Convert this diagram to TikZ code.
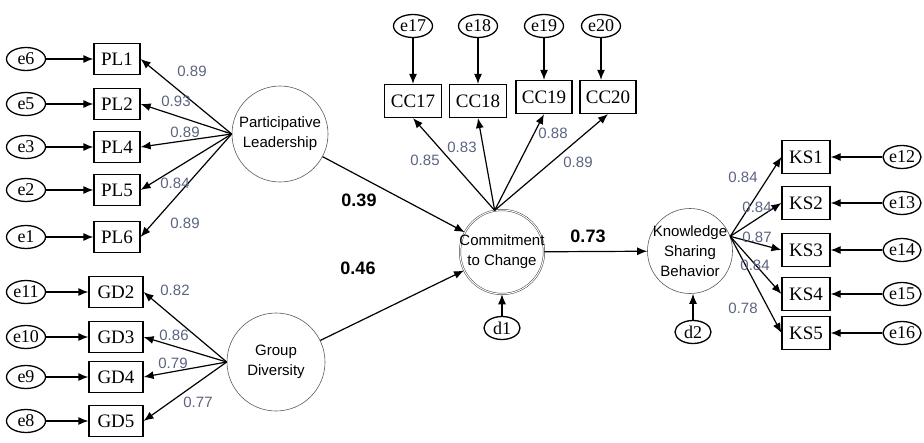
\documentclass[tikz,border=0pt]{standalone}
\usepackage{fontspec}
\setmainfont{Liberation Serif}
\setsansfont{Liberation Sans}
\usetikzlibrary{shapes.geometric, arrows.meta, positioning}
\definecolor{loadc}{RGB}{90,100,128}

\begin{document}
\begin{tikzpicture}[
  x=1pt, y=-1pt,
  latent/.style={circle, draw=gray!70!black, line width=0.6pt, inner sep=0pt,
                 align=center, font=\sffamily\fontsize{15}{20}\selectfont},
  ind/.style={draw, line width=1.2pt, minimum width=46pt, minimum height=31pt,
              inner sep=2pt, font=\fontsize{19}{21}\selectfont},
  err/.style={ellipse, draw, line width=1.3pt, minimum width=39pt,
              minimum height=23pt, inner sep=0pt, font=\fontsize{18}{20}\selectfont},
  arr/.style={-{Latex[length=10pt,width=8pt]}, line width=1.2pt},
  ld/.style={font=\sffamily\fontsize{15}{17}\selectfont, text=loadc, inner sep=0pt},
  coef/.style={font=\sffamily\bfseries\fontsize{18}{20}\selectfont, inner sep=0pt}
]
\useasboundingbox (0,0) rectangle (924,442);

% latent variables
\node[latent, minimum size=96pt] (PLd) at (280,134) {Participative\\Leadership};
\node[latent, minimum size=98pt] (GDd) at (276,362) {Group\\Diversity};
\node[latent, minimum size=84pt, inner sep=-4pt, double=white,
      double distance=1pt, draw=gray!50!black, line width=0.5pt]
      (CTC) at (502,252) {Commitment\\to Change};
\node[latent, minimum size=85pt, inner sep=-6pt] (KSB) at (690,251)
      {Knowledge\\Sharing\\Behavior};

% Participative Leadership block
\node[ind] (PL1) at (117,59)  {PL1};
\node[ind] (PL2) at (117,104) {PL2};
\node[ind] (PL4) at (117,147) {PL4};
\node[ind] (PL5) at (117,190) {PL5};
\node[ind] (PL6) at (117,237) {PL6};
\node[err] (e6) at (26,59)  {e6};
\node[err] (e5) at (26,104) {e5};
\node[err] (e3) at (26,147) {e3};
\node[err] (e2) at (26,190) {e2};
\node[err] (e1) at (26,237) {e1};

% Group Diversity block
\node[ind, minimum width=54pt] (GD2) at (116,292) {GD2};
\node[ind, minimum width=54pt] (GD3) at (116,337) {GD3};
\node[ind, minimum width=54pt] (GD4) at (116,377) {GD4};
\node[ind, minimum width=54pt] (GD5) at (116,421) {GD5};
\node[err] (e11) at (26,292) {e11};
\node[err] (e10) at (26,337) {e10};
\node[err] (e9)  at (26,377) {e9};
\node[err] (e8)  at (26,421) {e8};

% Commitment to Change block
\node[ind, minimum width=57pt, minimum height=33pt] (CC17) at (413,101) {CC17};
\node[ind, minimum width=57pt, minimum height=33pt] (CC18) at (478,101) {CC18};
\node[ind, minimum width=56pt, minimum height=33pt] (CC19) at (544,97)  {CC19};
\node[ind, minimum width=56pt, minimum height=33pt] (CC20) at (608,97)  {CC20};
\node[err] (e17) at (413,26) {e17};
\node[err] (e18) at (478,26) {e18};
\node[err] (e19) at (544,26) {e19};
\node[err] (e20) at (601,26) {e20};
\node[err, minimum width=36pt] (d1) at (502,328) {d1};

% Knowledge Sharing block
\node[ind, minimum width=48pt, minimum height=33pt] (KS1) at (806,157) {KS1};
\node[ind, minimum width=48pt, minimum height=33pt] (KS2) at (806,203) {KS2};
\node[ind, minimum width=48pt, minimum height=33pt] (KS3) at (806,250) {KS3};
\node[ind, minimum width=48pt, minimum height=33pt] (KS4) at (806,294) {KS4};
\node[ind, minimum width=48pt, minimum height=33pt] (KS5) at (806,333) {KS5};
\node[err, minimum width=38pt] (e12) at (902,157) {e12};
\node[err, minimum width=38pt] (e13) at (902,203) {e13};
\node[err, minimum width=38pt] (e14) at (902,250) {e14};
\node[err, minimum width=38pt] (e15) at (902,294) {e15};
\node[err, minimum width=38pt] (e16) at (902,333) {e16};
\node[err, minimum width=36pt] (d2) at (693,332) {d2};

% error terms
\draw[arr] (e6) -- (PL1);
\draw[arr] (e5) -- (PL2);
\draw[arr] (e3) -- (PL4);
\draw[arr] (e2) -- (PL5);
\draw[arr] (e1) -- (PL6);
\draw[arr] (e11) -- (GD2);
\draw[arr] (e10) -- (GD3);
\draw[arr] (e9)  -- (GD4);
\draw[arr] (e8)  -- (GD5);
\draw[arr] (e17) -- (CC17);
\draw[arr] (e18) -- (CC18);
\draw[arr] (e19) -- (CC19);
\draw[arr] (e20.south) -- (e20.south |- CC20.north);
\draw[arr] (e12) -- (KS1);
\draw[arr] (e13) -- (KS2);
\draw[arr] (e14) -- (KS3);
\draw[arr] (e15) -- (KS4);
\draw[arr] (e16) -- (KS5);
\draw[arr] (d1) -- (CTC);
\draw[arr] (d2) -- (d2 |- KSB.south);

% loadings
\draw[arr] (PLd.west) -- (PL1.east);
\draw[arr] (PLd.west) -- (PL2.east);
\draw[arr] (PLd.west) -- (PL4.east);
\draw[arr] (PLd.west) -- (PL5.east);
\draw[arr] (PLd.west) -- (PL6.east);
\draw[arr] (GDd.west) -- (GD2.east);
\draw[arr] (GDd.west) -- (GD3.east);
\draw[arr] (GDd.west) -- (GD4.east);
\draw[arr] (GDd.west) -- (GD5.east);
\draw[arr] (CTC.100) -- (CC17.south);
\draw[arr] (CTC.100) -- (CC18.south);
\draw[arr] (CTC.100) -- (CC19.south);
\draw[arr] (CTC.100) -- (CC20.south);
\draw[arr] (KSB.20) -- (KS1.west);
\draw[arr] (KSB.20) -- (KS2.west);
\draw[arr] (KSB.20) -- (KS3.west);
\draw[arr] (KSB.20) -- (KS4.west);
\draw[arr] (KSB.20) -- (KS5.west);

% structural paths
\draw[arr] (PLd) -- (CTC);
\draw[arr] (GDd) -- (CTC);
\draw[arr] (CTC) -- (KSB);

% loading values
\node[ld] (lp1) at (192,71)  {0.89};
\node[ld] (lp2) at (176,101) {0.93};
\node[ld] (lp4) at (185,132) {0.89};
\node[ld] (lp5) at (175,183) {0.84};
\node[ld] (lp6) at (185,223) {0.89};
\node[ld] (lg2) at (175,290) {0.82};
\node[ld] (lg3) at (174,335) {0.86};
\node[ld] (lg4) at (173,363) {0.79};
\node[ld] (lg5) at (198,402) {0.77};
\node[ld] (lc17) at (425,160) {0.85};
\node[ld] (lc18) at (462,147) {0.83};
\node[ld] (lc19) at (553,133) {0.88};
\node[ld] (lc20) at (578,162) {0.89};
\node[ld] (lk1) at (743,177) {0.84};
\node[ld] (lk2) at (757,207) {0.84};
\node[ld] (lk3) at (757,237) {0.87};
\node[ld] (lk4) at (755,265) {0.84};
\node[ld] (lk5) at (743,308) {0.78};

% path coefficients
\node[coef] (b1) at (359,200) {0.39};
\node[coef] (b2) at (358,268) {0.46};
\node[coef] (b3) at (588,236) {0.73};
\end{tikzpicture}
\end{document}
